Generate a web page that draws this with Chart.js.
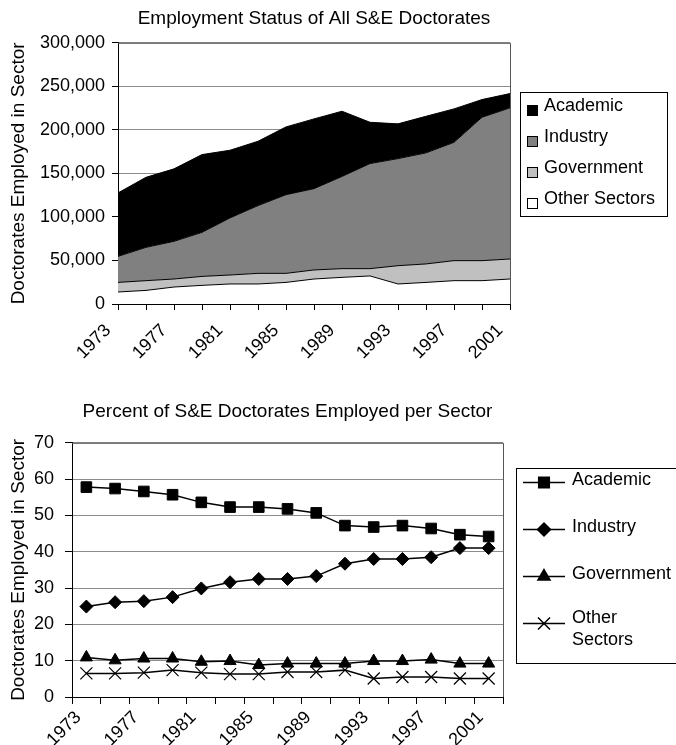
<!DOCTYPE html>
<html>
<head>
<meta charset="utf-8">
<script src="https://cdn.jsdelivr.net/npm/chart.js@4/dist/chart.umd.min.js"></script>
<style>
  html, body { margin: 0; padding: 0; background: #fff; overflow: hidden; }
  canvas { display: block; }
</style>
</head>
<body>
<canvas id="countChart" width="676" height="370"></canvas>
<canvas id="percentChart" width="676" height="375"></canvas>
<script>
// survey years (biennial), every other one is labelled
const years = ["1973", "1975", "1977", "1979", "1981", "1983", "1985", "1987",
               "1989", "1991", "1993", "1995", "1997", "1999", "2001"];
const sectorNames = ["Academic", "Industry", "Government", "Other Sectors"];

// doctorates employed, by sector
const academicCount   = [72900, 80400, 83200, 89300, 77700, 73900, 77800, 80100, 74900, 47400, 39900, 42000, 38400, 20300, 16400];
const industryCount   = [29900, 38300, 43300, 50600, 65600, 77800, 90400, 93400, 105900, 120700, 123000, 127600, 135900, 164700, 173600];
const governmentCount = [11000, 11200, 9200, 10300, 10300, 12200, 10400, 10400, 10000, 8400, 21000, 21200, 23000, 23000, 23000];
const otherCount      = [13800, 15600, 19500, 21400, 23000, 23000, 24800, 28700, 30600, 32200, 23000, 24800, 26800, 26800, 28700];

// percent employed per sector
const academicPct   = [57.8, 57.4, 56.6, 55.7, 53.6, 52.3, 52.3, 51.8, 50.7, 47.2, 46.8, 47.2, 46.4, 44.7, 44.2];
const industryPct   = [24.9, 26.1, 26.4, 27.5, 29.9, 31.6, 32.5, 32.5, 33.3, 36.7, 38.0, 38.0, 38.5, 41.0, 41.0];
const governmentPct = [10.9, 10.1, 10.6, 10.6, 9.7, 9.9, 8.8, 9.2, 9.2, 9.2, 9.9, 9.9, 10.3, 9.2, 9.2];
const otherPct      = [6.5, 6.5, 6.7, 7.4, 6.7, 6.3, 6.3, 6.9, 6.9, 7.4, 5.1, 5.5, 5.5, 5.1, 5.1];

const FONT = "'Liberation Sans', Arial, Helvetica, sans-serif";
Chart.defaults.font.family = FONT;
Chart.defaults.color = "#000";

// top and right edge of the plot area
const plotFrame = {
    id: "plotFrame",
    afterDraw(chart) {
        const { ctx, chartArea: a } = chart;
        ctx.save();
        ctx.strokeStyle = "#555";
        ctx.lineWidth = 1;
        ctx.beginPath();
        ctx.moveTo(a.left, a.top + 0.5);
        ctx.lineTo(a.right + 0.5, a.top + 0.5);
        ctx.lineTo(a.right + 0.5, a.bottom);
        ctx.stroke();
        ctx.restore();
    }
};

function wrapText(ctx, text, maxWidth) {
    if (ctx.measureText(text).width <= maxWidth) return [text];
    return text.split(" ");
}

// boxed legend on the right, Excel style
const boxLegend = {
    id: "boxLegend",
    afterDraw(chart, args, opts) {
        const ctx = chart.ctx;
        ctx.save();
        ctx.strokeStyle = "#000";
        ctx.lineWidth = 1;
        ctx.strokeRect(opts.x + 0.5, opts.y + 0.5, opts.w, opts.h);
        ctx.font = "18px " + FONT;
        ctx.textBaseline = "middle";
        ctx.textAlign = "left";
        opts.order.forEach((di, row) => {
            const ds = chart.data.datasets[di];
            const y = opts.rowY[row];
            if (opts.kind === "swatch") {
                ctx.fillStyle = ds.backgroundColor;
                ctx.fillRect(opts.x + 7.5, y - 2.5, 10, 10);
                ctx.strokeRect(opts.x + 7.5, y - 2.5, 10, 10);
            } else {
                ctx.beginPath();
                ctx.moveTo(opts.x + 7, y + 0.5);
                ctx.lineTo(opts.x + 49, y + 0.5);
                ctx.lineWidth = 1.5;
                ctx.strokeStyle = "#000";
                ctx.stroke();
                ctx.fillStyle = "#000";
                Chart.helpers.drawPoint(ctx, {
                    pointStyle: ds.pointStyle, radius: ds.pointRadius,
                    borderWidth: ds.pointBorderWidth || 1, rotation: 0
                }, opts.x + 28, y + 0.5);
                ctx.lineWidth = 1;
            }
            ctx.fillStyle = "#000";
            const lines = wrapText(ctx, ds.label, opts.textWidth);
            const tx = opts.x + opts.textOffset;
            if (lines.length === 1) {
                ctx.fillText(lines[0], tx, y - 2);
            } else {
                lines.forEach((t, i) => ctx.fillText(t, tx, y - 5 + i * 22));
            }
        });
        ctx.restore();
    }
};

const evenYearTick = (v, i) => (i % 2 === 0 ? years[i] : "");

new Chart(document.getElementById("countChart"), {
    type: "line",
    data: {
        labels: years,
        datasets: [{
            label: sectorNames[3], data: otherCount,
            backgroundColor: "#ffffff", fill: "origin"
        }, {
            label: sectorNames[2], data: governmentCount,
            backgroundColor: "#c0c0c0", fill: "-1"
        }, {
            label: sectorNames[1], data: industryCount,
            backgroundColor: "#808080", fill: "-1"
        }, {
            label: sectorNames[0], data: academicCount,
            backgroundColor: "#000000", fill: "-1"
        }].map(d => ({ ...d, borderColor: "#000", borderWidth: 1, pointRadius: 0, tension: 0 }))
    },
    options: {
        responsive: false,
        animation: false,
        layout: { padding: { left: 4, right: 166, top: 0, bottom: 0 } },
        plugins: {
            legend: { display: false },
            tooltip: { enabled: false },
            title: {
                display: true,
                text: "Employment Status of All S&E Doctorates",
                fullSize: false,
                font: { size: 19, weight: "normal" },
                padding: { top: 7, bottom: 13 }
            },
            boxLegend: {
                kind: "swatch", x: 520, y: 92, w: 147, h: 124,
                rowY: [108, 139, 170, 201], order: [3, 2, 1, 0],
                textOffset: 24, textWidth: 130
            }
        },
        scales: {
            x: {
                offset: false,
                grid: { drawOnChartArea: false, tickLength: 6, tickColor: "#000" },
                border: { color: "#000", width: 1 },
                ticks: {
                    autoSkip: false, maxRotation: 45, minRotation: 45, padding: 10,
                    labelOffset: -10, font: { size: 18 }, callback: evenYearTick
                },
                afterFit: s => { s.height = 66; }
            },
            y: {
                stacked: true,
                min: 0, max: 300000,
                grid: { color: "#8c8c8c", tickLength: 6, tickColor: "#000" },
                border: { color: "#000", width: 1 },
                ticks: { stepSize: 50000, padding: 7, font: { size: 18 } },
                title: {
                    display: true, text: "Doctorates Employed in Sector",
                    font: { size: 19 }, padding: { top: 3, bottom: 0 }
                },
                afterFit: s => { s.width = 114; }
            }
        }
    },
    plugins: [plotFrame, boxLegend]
});

new Chart(document.getElementById("percentChart"), {
    type: "line",
    data: {
        labels: years,
        datasets: [{
            label: sectorNames[0], data: academicPct, pointStyle: "rect", pointRadius: 7.5
        }, {
            label: sectorNames[1], data: industryPct, pointStyle: "rectRot", pointRadius: 6.5
        }, {
            label: sectorNames[2], data: governmentPct, pointStyle: "triangle", pointRadius: 7
        }, {
            label: sectorNames[3], data: otherPct, pointStyle: "crossRot", pointRadius: 8.5,
            pointBorderWidth: 1.2, pointBackgroundColor: "transparent"
        }].map(d => ({
            pointBackgroundColor: "#000", pointBorderColor: "#000", pointBorderWidth: 1,
            ...d, borderColor: "#000", borderWidth: 1.5, tension: 0, fill: false
        }))
    },
    options: {
        responsive: false,
        animation: false,
        layout: { padding: { left: 4, right: 173, top: 0, bottom: 0 } },
        plugins: {
            legend: { display: false },
            tooltip: { enabled: false },
            title: {
                display: true,
                text: "Percent of S&E Doctorates Employed per Sector",
                fullSize: false,
                font: { size: 19, weight: "normal" },
                padding: { top: 30, bottom: 20 }
            },
            boxLegend: {
                kind: "line", x: 516, y: 468 - 370, w: 170, h: 195,
                rowY: [482, 529, 576, 623].map(v => v - 370), order: [0, 1, 2, 3],
                textOffset: 56, textWidth: 100
            }
        },
        scales: {
            x: {
                offset: true,
                grid: { offset: true, drawOnChartArea: false, tickLength: 7, tickColor: "#000" },
                border: { color: "#000", width: 1 },
                ticks: {
                    autoSkip: false, maxRotation: 45, minRotation: 45, padding: 3,
                    labelOffset: -8, font: { size: 18 }, callback: evenYearTick
                },
                afterFit: s => { s.height = 48; }
            },
            y: {
                min: 0, max: 70,
                grid: { color: "#8c8c8c", tickLength: 7, tickColor: "#000" },
                border: { color: "#000", width: 1 },
                ticks: { stepSize: 10, padding: 11, font: { size: 18 } },
                title: {
                    display: true, text: "Doctorates Employed in Sector",
                    font: { size: 19 }, padding: { top: 3, bottom: 0 }
                },
                afterFit: s => { s.width = 68; }
            }
        }
    },
    plugins: [plotFrame, boxLegend]
});
</script>
</body>
</html>
